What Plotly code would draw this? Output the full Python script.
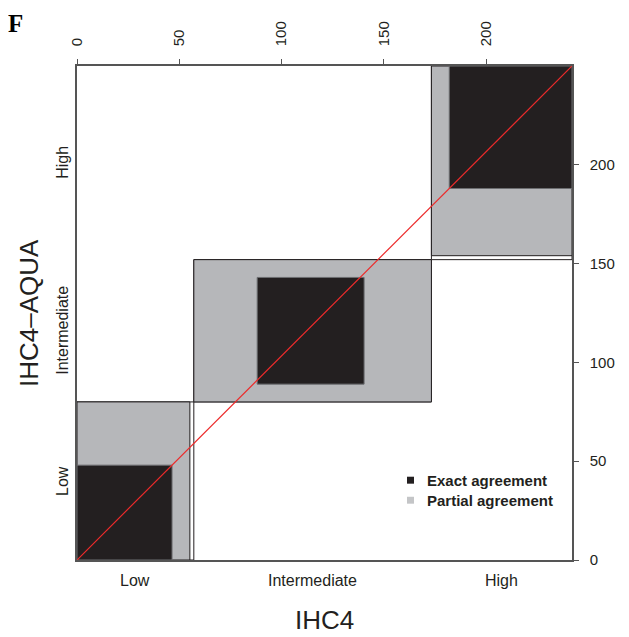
import plotly.graph_objects as go

# ---- data ----
categories = ["Low", "Intermediate", "High"]
# cross-tabulation: rows = IHC4-AQUA category, columns = IHC4 category
aqua_low = [48, 32, 0]
aqua_intermediate = [9, 54, 9]
aqua_high = [2, 34, 62]
axis_ticks = [0, 50, 100, 150, 200]
legend_labels = ["Exact agreement", "Partial agreement"]

# ---- styling ----
DARK = "#231f20"
GRAY = "#b6b7ba"
EXACT = "#231f20"
RED = "#ec2b2b"
AXIS = "#555555"
FONT = "Liberation Sans, Arial, sans-serif"
XS = 0.968  # horizontal compression of the published figure

table = [aqua_low, aqua_intermediate, aqua_high]
k = len(categories)
n = sum(sum(r) for r in table)
col_tot = [sum(table[r][c] for r in range(k)) for c in range(k)]
row_tot = [sum(table[r]) for r in range(k)]


def cum(v):
    out = [0]
    for a in v:
        out.append(out[-1] + a)
    return out


xc = cum(col_tot)
yc = cum(row_tot)

shapes = []
for i in range(k):
    # outer (marginal) rectangle
    shapes.append(dict(type="rect", xref="x", yref="y", layer="below",
                       x0=XS * xc[i], x1=XS * xc[i + 1], y0=yc[i], y1=yc[i + 1],
                       fillcolor="white", line=dict(color=DARK, width=1)))
for i in range(k):
    lo = max(0, i - 1)
    hi = min(k - 1, i + 1)
    px0 = XS * (xc[i] + sum(table[r][i] for r in range(0, lo)))
    px1 = XS * (xc[i] + sum(table[r][i] for r in range(0, hi + 1)))
    py0 = yc[i] + sum(table[i][c] for c in range(0, lo))
    py1 = yc[i] + sum(table[i][c] for c in range(0, hi + 1))
    shapes.append(dict(type="rect", xref="x", yref="y", layer="below",
                       x0=px0, x1=px1, y0=py0, y1=py1,
                       fillcolor=GRAY, line=dict(color=DARK, width=1)))
    ex0 = XS * (xc[i] + sum(table[r][i] for r in range(0, i)))
    ex1 = ex0 + XS * table[i][i]
    ey0 = yc[i] + sum(table[i][c] for c in range(0, i))
    ey1 = ey0 + table[i][i]
    shapes.append(dict(type="rect", xref="x", yref="y", layer="below",
                       x0=ex0, x1=ex1, y0=ey0, y1=ey1,
                       fillcolor=EXACT, line=dict(color="#6d6e71", width=1)))

# legend squares
shapes.append(dict(type="rect", xref="paper", yref="paper",
                   x0=0.6667, x1=0.6808, y0=0.1545, y1=0.1686,
                   fillcolor=EXACT, line=dict(width=0)))
shapes.append(dict(type="rect", xref="paper", yref="paper",
                   x0=0.6667, x1=0.6808, y0=0.114, y1=0.128,
                   fillcolor="#c4c5c7", line=dict(width=0)))

fig = go.Figure()
fig.add_trace(go.Scatter(x=[0, XS * n], y=[0, n], mode="lines",
                         line=dict(color=RED, width=1.2),
                         hoverinfo="skip", showlegend=False))

annotations = []
for i, c in enumerate(categories):
    annotations.append(dict(text=c, x=XS * (xc[i] + xc[i + 1]) / 2, xref="x",
                            y=0, yref="paper", yanchor="middle", yshift=-20,
                            showarrow=False, font=dict(size=16, color=DARK, family=FONT)))
    annotations.append(dict(text=c, y=(yc[i] + yc[i + 1]) / 2, yref="y",
                            x=0, xref="paper", xanchor="center", xshift=-14,
                            textangle=-90, showarrow=False,
                            font=dict(size=16, color=DARK, family=FONT)))
annotations.append(dict(text="IHC4", x=0.5, xref="paper", y=0, yref="paper",
                        yanchor="middle", yshift=-60, showarrow=False,
                        font=dict(size=26, color=DARK, family=FONT)))
annotations.append(dict(text="IHC4–AQUA", x=0, xref="paper", xanchor="center",
                        xshift=-48, y=0.5, yref="paper", textangle=-90,
                        showarrow=False, font=dict(size=26, color=DARK, family=FONT)))
annotations.append(dict(text="<b>F</b>", x=0, xref="paper", xanchor="center",
                        xshift=-62, y=1, yref="paper", yanchor="top", yshift=57,
                        borderpad=0, showarrow=False,
                        font=dict(size=25, color="black", family="Liberation Serif, serif")))
for lbl, yy in zip(legend_labels, [0.1615, 0.121]):
    annotations.append(dict(text="<b>" + lbl + "</b>", x=0.703, xref="paper",
                            xanchor="left", y=yy, yref="paper", yanchor="middle",
                            showarrow=False, font=dict(size=15, color=DARK, family=FONT)))

axis_common = dict(showgrid=False, zeroline=False, showline=True, mirror=True,
                   linecolor=AXIS, linewidth=1.5, ticks="outside", ticklen=5,
                   tickcolor=AXIS, tickwidth=1, tickvals=axis_ticks,
                   tickfont=dict(size=15, color=DARK, family=FONT))

fig.update_layout(
    width=621, height=629, autosize=False,
    margin=dict(l=69, r=57, t=58, b=77),
    paper_bgcolor="white", plot_bgcolor="white",
    xaxis=dict(range=[0, XS * n], side="top", tickangle=-90,
               ticklabelstandoff=10, **axis_common),
    yaxis=dict(range=[0, n], side="right", ticklabelstandoff=8, **axis_common),
    shapes=shapes, annotations=annotations, showlegend=False,
)

fig.write_html("out.html")
